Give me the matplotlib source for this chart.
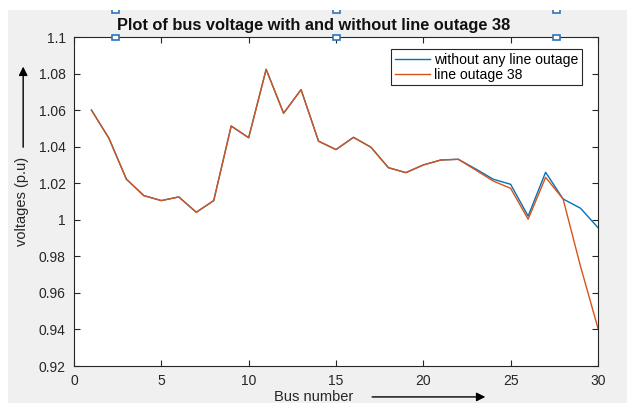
"""Bus voltage profile of the 30-bus system, base case vs. line 38 outage."""

import matplotlib
matplotlib.use("Agg")
import matplotlib.pyplot as plt
from matplotlib.patches import Rectangle

plt.rcParams["font.family"] = ["Liberation Sans", "DejaVu Sans"]

# ── Data ──────────────────────────────────────────────────────────────────────
bus = list(range(1, 31))

v_base = [1.060, 1.0446, 1.0222, 1.0132, 1.0105, 1.0125, 1.0041, 1.0105,
          1.0513, 1.0449, 1.0823, 1.0583, 1.0712, 1.0430, 1.0384, 1.0451,
          1.0397, 1.0285, 1.0258, 1.0300, 1.0327, 1.0331, 1.0278, 1.0222,
          1.0194, 1.0020, 1.0260, 1.0114, 1.0063, 0.9957]

v_outage = [1.060, 1.0446, 1.0222, 1.0132, 1.0105, 1.0125, 1.0041, 1.0105,
            1.0513, 1.0449, 1.0823, 1.0583, 1.0712, 1.0430, 1.0384, 1.0451,
            1.0397, 1.0285, 1.0258, 1.0300, 1.0327, 1.0331, 1.0272, 1.0212,
            1.0172, 1.0003, 1.0232, 1.0114, 0.9745, 0.9406]

x_ticks = [0, 5, 10, 15, 20, 25, 30]
y_ticks = [0.92, 0.94, 0.96, 0.98, 1.0, 1.02, 1.04, 1.06, 1.08, 1.1]
y_ticklabels = ["0.92", "0.94", "0.96", "0.98", "1", "1.02", "1.04",
                "1.06", "1.08", "1.1"]

# ── Style ─────────────────────────────────────────────────────────────────────
BLUE   = "#0072BD"
ORANGE = "#D95319"
AXCOL  = "#262626"
BG     = "#f0f0f0"
HANDLE = "#2f72b8"

W, H = 627, 403
fig = plt.figure(figsize=(W / 100, H / 100), dpi=100, facecolor=BG)
ax = fig.add_axes([74 / W, 1 - 366 / H, 524 / W, 329 / H])

ax.plot(bus, v_base, color=BLUE, linewidth=1.0, label="without any line outage")
ax.plot(bus, v_outage, color=ORANGE, linewidth=1.0, label="line outage 38")

ax.set_xlim(0, 30)
ax.set_ylim(0.92, 1.1)
ax.set_xticks(x_ticks)
ax.set_yticks(y_ticks)
ax.set_yticklabels(y_ticklabels)
ax.tick_params(direction="in", length=4, width=0.8, top=True, right=True,
               labelsize=10, colors=AXCOL, pad=6)
for s in ax.spines.values():
    s.set_color(AXCOL)
    s.set_linewidth(0.8)

ax.set_title("Plot of bus voltage with and without line outage 38",
             fontsize=11.8, fontweight="bold", color="#111111", pad=5, x=0.458)

ax.set_ylabel("voltages (p.u)", fontsize=10.5, color=AXCOL)
ax.yaxis.set_label_coords(-0.086, 0.5)
ax.set_xlabel("Bus number", fontsize=10.5, color=AXCOL)
ax.xaxis.set_label_coords(0.458, -0.074)

# arrows beside the axis labels
arrow = dict(arrowstyle="-|>", color="black", lw=1.0, mutation_scale=13,
             shrinkA=0, shrinkB=0)
ax.annotate("", xy=(-0.097, 0.91), xytext=(-0.097, 0.665),
            xycoords="axes fraction", arrowprops=arrow, annotation_clip=False)
ax.annotate("", xy=(0.785, -0.094), xytext=(0.569, -0.094),
            xycoords="axes fraction", arrowprops=arrow, annotation_clip=False)

leg = ax.legend(loc="upper right", bbox_to_anchor=(1 - 16 / 524, 1 - 12 / 329),
                fontsize=10.1, frameon=True, fancybox=False, framealpha=1,
                edgecolor=AXCOL, handlelength=2.5, handletextpad=0.3,
                borderpad=0.25, labelspacing=0.08, borderaxespad=0)
leg.get_frame().set_linewidth(0.8)

# edit-mode selection handles around the title box, centred on the axes
fig.canvas.draw()
renderer = fig.canvas.get_renderer()
tb = ax.title.get_window_extent(renderer)
ab = ax.get_window_extent(renderer)
cx = (ab.x0 + ab.x1) / 2
half = tb.width / 2 + 24
hx = [cx - half, cx, cx + half]
hy = [ab.y1, H - 10]
for x in hx:
    for y in hy:
        fig.patches.append(Rectangle((x - 3.5, y - 2.5), 7, 5, transform=None,
                                     facecolor="white", edgecolor=HANDLE,
                                     linewidth=1.2, zorder=5))

# white strips along the top and left edges
fig.patches.append(Rectangle((0, 1 - 10 / H), 1, 10 / H, transform=fig.transFigure,
                             facecolor="white", edgecolor="none", zorder=10))
fig.patches.append(Rectangle((0, 0), 8 / W, 1, transform=fig.transFigure,
                             facecolor="white", edgecolor="none", zorder=10))

fig.savefig("out.png", dpi=100, facecolor=fig.get_facecolor())
